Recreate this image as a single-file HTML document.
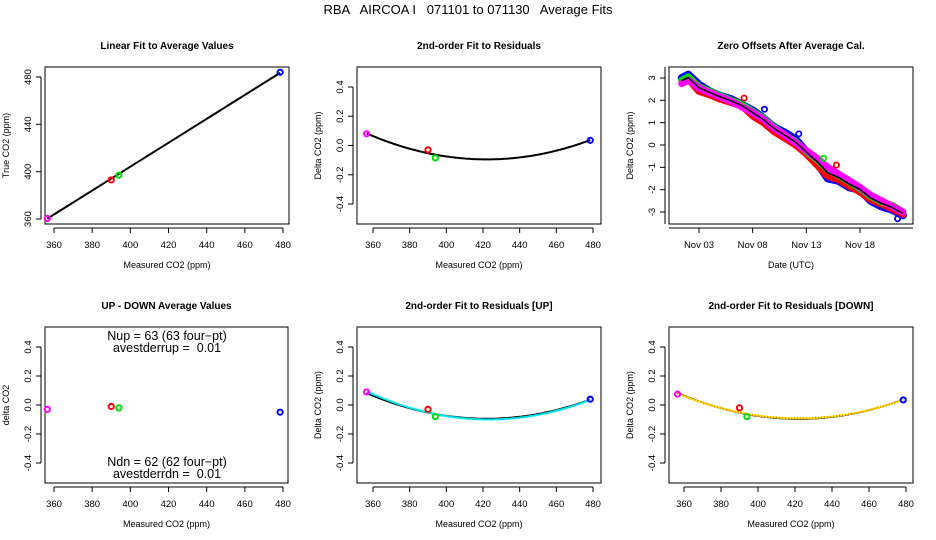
<!DOCTYPE html>
<html><head><meta charset="utf-8"><style>
body{margin:0;background:#fff;}
svg{display:block;font-family:"Liberation Sans",sans-serif;}
text{white-space:pre;}
</style></head><body>
<svg id="fig" width="936" height="540" xmlns="http://www.w3.org/2000/svg">
<rect width="936" height="540" fill="#fff"/>
<text x="468" y="14" font-size="13" text-anchor="middle" xml:space="preserve">RBA   AIRCOA I   071101 to 071130   Average Fits</text>
</svg>
<script>
// ---- data ----
const co2Ticks = [360, 380, 400, 420, 440, 460, 480];
const trueTicks = [360, 400, 440, 480];
const residTicks = [-0.4, -0.2, 0.0, 0.2, 0.4];
const residTickLabels = ["-0.4", "-0.2", "0.0", "0.2", "0.4"];
const offsetTicks = [-3, -2, -1, 0, 1, 2, 3];
const dateTicks = [3, 8, 13, 18];
const dateTickLabels = ["Nov 03", "Nov 08", "Nov 13", "Nov 18"];
const pointColors = ["#ff00ff", "#ff0000", "#00dd00", "#0000ff"];
const measured = [356.5, 390, 394, 478.5];
const trueVals = [360.5, 393, 397, 484];
const resid = [0.08, -0.03, -0.085, 0.035];
const updown = [-0.03, -0.01, -0.02, -0.05];
const residUp = [0.09, -0.03, -0.08, 0.04];
const residDn = [0.075, -0.02, -0.08, 0.035];
const fitCoef = [4.14e-5, 422, -0.095];
const fitUpCoef = [4.4e-5, 423, -0.10];
const fitDnCoef = [4.0e-5, 422, -0.092];
const days = [1.4, 2, 3, 4, 5, 6, 7, 8, 9, 10, 11, 12, 13, 14, 15, 16, 17, 18, 19, 20, 21, 22];
const offMagenta = [2.75, 2.9, 2.55, 2.35, 2.15, 1.95, 1.7, 1.45, 1.15, 0.75, 0.45, 0.1, -0.25, -0.6, -1.0, -1.3, -1.6, -1.9, -2.25, -2.5, -2.75, -3.0];
const offBlue = [3.0, 3.15, 2.7, 2.4, 2.2, 2.05, 1.8, 1.55, 1.2, 0.8, 0.55, 0.25, -0.3, -0.8, -1.5, -1.6, -1.9, -2.0, -2.5, -2.75, -2.9, -3.15];
const offRed = [2.85, 2.95, 2.4, 2.25, 2.05, 1.9, 1.75, 1.3, 1.0, 0.6, 0.3, 0.0, -0.4, -0.9, -1.4, -1.55, -1.85, -2.1, -2.45, -2.65, -2.85, -3.1];
const offGreen = [2.9, 3.05, 2.6, 2.4, 2.2, 2.0, 1.8, 1.5, 1.2, 0.8, 0.45, 0.15, -0.3, -0.65, -1.1, -1.35, -1.65, -1.95, -2.3, -2.55, -2.7, -3.0];
const outlierDays = [7.2, 15.8, 14.6, 9.1, 12.3, 21.5];
const outlierVals = [2.1, -0.9, -0.6, 1.6, 0.5, -3.3];
const outlierColors = ["#ff0000", "#ff0000", "#00dd00", "#0000ff", "#0000ff", "#0000ff"];

const NS = "http://www.w3.org/2000/svg";
const svg = document.getElementById("fig");
function mk(tag, attrs, parent) {
  const e = document.createElementNS(NS, tag);
  for (const k in attrs) e.setAttribute(k, attrs[k]);
  (parent || svg).appendChild(e);
  return e;
}
function lin(d0, d1, r0, r1) { return v => r0 + (v - d0) * (r1 - r0) / (d1 - d0); }

function panel(name, L, T, R, B, title, xlab, ylab) {
  const g = mk("g", {});
  
  
  const box = mk("rect", {x: L, y: T, width: R - L, height: B - T, fill: "none", stroke: "#000", "stroke-width": 1}, g);
  
  
  const t = mk("text", {x: (L + R) / 2, y: T - 18, "font-size": 10, "font-weight": "bold", "text-anchor": "middle"}, g);
  t.textContent = title;
  
  
  const xl = mk("text", {x: (L + R) / 2, y: B + 44, "font-size": 9, "text-anchor": "middle"}, g);
  xl.textContent = xlab;
  
  
  const yx = L - 36, yy = (T + B) / 2;
  const yl = mk("text", {x: yx, y: yy, "font-size": 9, "text-anchor": "middle", transform: `rotate(-90 ${yx} ${yy})`}, g);
  yl.textContent = ylab;
  
  
  return g;
}
function xAxis(g, B, ticks, labels, sx, x0, x1) {
  const a = x0 !== undefined ? x0 : sx(ticks[0]);
  const b = x1 !== undefined ? x1 : sx(ticks[ticks.length - 1]);
  mk("line", {x1: a, y1: B + 4, x2: b, y2: B + 4, stroke: "#000"}, g);
  ticks.forEach((v, i) => {
    const x = sx(v);
    mk("line", {x1: x, y1: B + 4, x2: x, y2: B + 9, stroke: "#000"}, g);
    const t = mk("text", {x: x, y: B + 24, "font-size": 9.5, "text-anchor": "middle"}, g);
    t.textContent = labels[i];
    
    
  });
}
function yAxis(g, L, ticks, labels, sy, y0, y1) {
  const a = y0 !== undefined ? y0 : sy(ticks[0]);
  const b = y1 !== undefined ? y1 : sy(ticks[ticks.length - 1]);
  mk("line", {x1: L - 4, y1: a, x2: L - 4, y2: b, stroke: "#000"}, g);
  ticks.forEach((v, i) => {
    const y = sy(v);
    mk("line", {x1: L - 4, y1: y, x2: L - 9, y2: y, stroke: "#000"}, g);
    const xx = L - 14;
    const t = mk("text", {x: xx, y: y, "font-size": 9.5, "text-anchor": "middle", transform: `rotate(-90 ${xx} ${y})`}, g);
    t.textContent = labels[i];
    
    
  });
}
function pts(g, xs, ys, sx, sy) {
  xs.forEach((v, i) => {
    const c = mk("circle", {cx: sx(v), cy: sy(ys[i]), r: 2.6, fill: "none", stroke: pointColors[i], "stroke-width": 2}, g);
    
    
  });
}
function curve(g, coef, sx, sy, color, width, dash) {
  let d = "";
  for (let x = 356.5; x <= 479; x += 1) {
    const y = coef[0] * (x - coef[1]) * (x - coef[1]) + coef[2];
    d += (d ? "L" : "M") + sx(x).toFixed(1) + "," + sy(y).toFixed(1);
  }
  const p = mk("path", {d: d, fill: "none", stroke: color, "stroke-width": width}, g);
  if (dash) p.setAttribute("stroke-dasharray", dash);
  
  
}

// Panel 1
(function () {
  const L = 45, T = 67, R = 289, B = 224;
  const g = panel("linear-fit-panel", L, T, R, B, "Linear Fit to Average Values", "Measured CO2 (ppm)", "True CO2 (ppm)");
  const sx = lin(360, 480, 54, 283), sy = lin(360, 480, 219, 77);
  xAxis(g, B, co2Ticks, co2Ticks.map(String), sx);
  yAxis(g, L, trueTicks, trueTicks.map(String), sy);
  const ln = mk("line", {x1: sx(356.5), y1: sy(360.3), x2: sx(478.5), y2: sy(483.5), stroke: "#000", "stroke-width": 2}, g);
  
  
  pts(g, measured, trueVals, sx, sy);
})();

// Panel 2
(function () {
  const L = 357, T = 67, R = 601, B = 224;
  const g = panel("residual-fit-panel", L, T, R, B, "2nd-order Fit to Residuals", "Measured CO2 (ppm)", "Delta CO2 (ppm)");
  const sx = lin(360, 480, 373, 593), sy = lin(-0.4, 0.4, 204, 87);
  xAxis(g, B, co2Ticks, co2Ticks.map(String), sx);
  yAxis(g, L, residTicks, residTickLabels, sy);
  curve(g, fitCoef, sx, sy, "#000", 2);
  pts(g, measured, resid, sx, sy);
})();

// Panel 3
(function () {
  const L = 669, T = 67, R = 913, B = 224;
  const g = panel("zero-offsets-panel", L, T, R, B, "Zero Offsets After Average Cal.", "Date (UTC)", "Delta CO2 (ppm)");
  const sx = lin(3, 18, 699, 860), sy = lin(-3, 3, 212, 78);
  xAxis(g, B, dateTicks, dateTickLabels, sx, L, R);
  yAxis(g, L, offsetTicks, offsetTicks.map(String), sy, B, T);
  const series = [[offBlue, "#0000ff", 8], [offRed, "#ff0000", 7], [offGreen, "#00dd00", 7], [offMagenta, "#ff00ff", 7]];
  series.forEach(([vals, col, w]) => {
    const d = days.map((t, i) => (i ? "L" : "M") + sx(t).toFixed(1) + "," + sy(vals[i]).toFixed(1)).join("");
    const p = mk("path", {d: d, fill: "none", stroke: col, "stroke-width": w, "stroke-linejoin": "round", "stroke-linecap": "round"}, g);
    
    
  });
  const mean = days.map((t, i) => (offBlue[i] + offRed[i] + offGreen[i] + offMagenta[i]) / 4);
  const dm = days.map((t, i) => (i ? "L" : "M") + sx(t).toFixed(1) + "," + sy(mean[i]).toFixed(1)).join("");
  const pm = mk("path", {d: dm, fill: "none", stroke: "#000", "stroke-width": 1.5}, g);
  
  
  outlierDays.forEach((t, i) => {
    const c = mk("circle", {cx: sx(t), cy: sy(outlierVals[i]), r: 2.6, fill: "none", stroke: outlierColors[i], "stroke-width": 1.8}, g);
    
    
  });
})();

// Panel 4
(function () {
  const L = 45, T = 327, R = 288, B = 483;
  const g = panel("up-down-panel", L, T, R, B, "UP - DOWN Average Values", "Measured CO2 (ppm)", "delta CO2");
  const sx = lin(360, 480, 54, 283), sy = lin(-0.4, 0.4, 463, 347);
  xAxis(g, B, co2Ticks, co2Ticks.map(String), sx);
  yAxis(g, L, residTicks, residTickLabels, sy);
  pts(g, measured, updown, sx, sy);
  const lines = [["Nup = 63 (63 four\u2212pt)", 340], ["avestderrup =  0.01", 352], ["Ndn = 62 (62 four\u2212pt)", 466], ["avestderrdn =  0.01", 478]];
  lines.forEach(([s, y]) => {
    const t = mk("text", {x: 167, y: y, "font-size": 12.5, "text-anchor": "middle"}, g);
    t.textContent = s;
    
    
  });
})();

// Panel 5
(function () {
  const L = 357, T = 327, R = 601, B = 483;
  const g = panel("residual-up-panel", L, T, R, B, "2nd-order Fit to Residuals [UP]", "Measured CO2 (ppm)", "Delta CO2 (ppm)");
  const sx = lin(360, 480, 373, 593), sy = lin(-0.4, 0.4, 463, 347);
  xAxis(g, B, co2Ticks, co2Ticks.map(String), sx);
  yAxis(g, L, residTicks, residTickLabels, sy);
  curve(g, fitCoef, sx, sy, "#000", 2);
  curve(g, fitUpCoef, sx, sy, "#00e5ee", 2);
  pts(g, measured, residUp, sx, sy);
})();

// Panel 6
(function () {
  const L = 669, T = 327, R = 913, B = 483;
  const g = panel("residual-down-panel", L, T, R, B, "2nd-order Fit to Residuals [DOWN]", "Measured CO2 (ppm)", "Delta CO2 (ppm)");
  const sx = lin(360, 480, 684, 906), sy = lin(-0.4, 0.4, 463, 347);
  xAxis(g, B, co2Ticks, co2Ticks.map(String), sx);
  yAxis(g, L, residTicks, residTickLabels, sy);
  curve(g, fitCoef, sx, sy, "#000", 2);
  curve(g, fitDnCoef, sx, sy, "#ffee00", 2);
  curve(g, fitDnCoef, sx, sy, "#ff3300", 1, "1,2");
  pts(g, measured, residDn, sx, sy);
})();
</script>
</body></html>
